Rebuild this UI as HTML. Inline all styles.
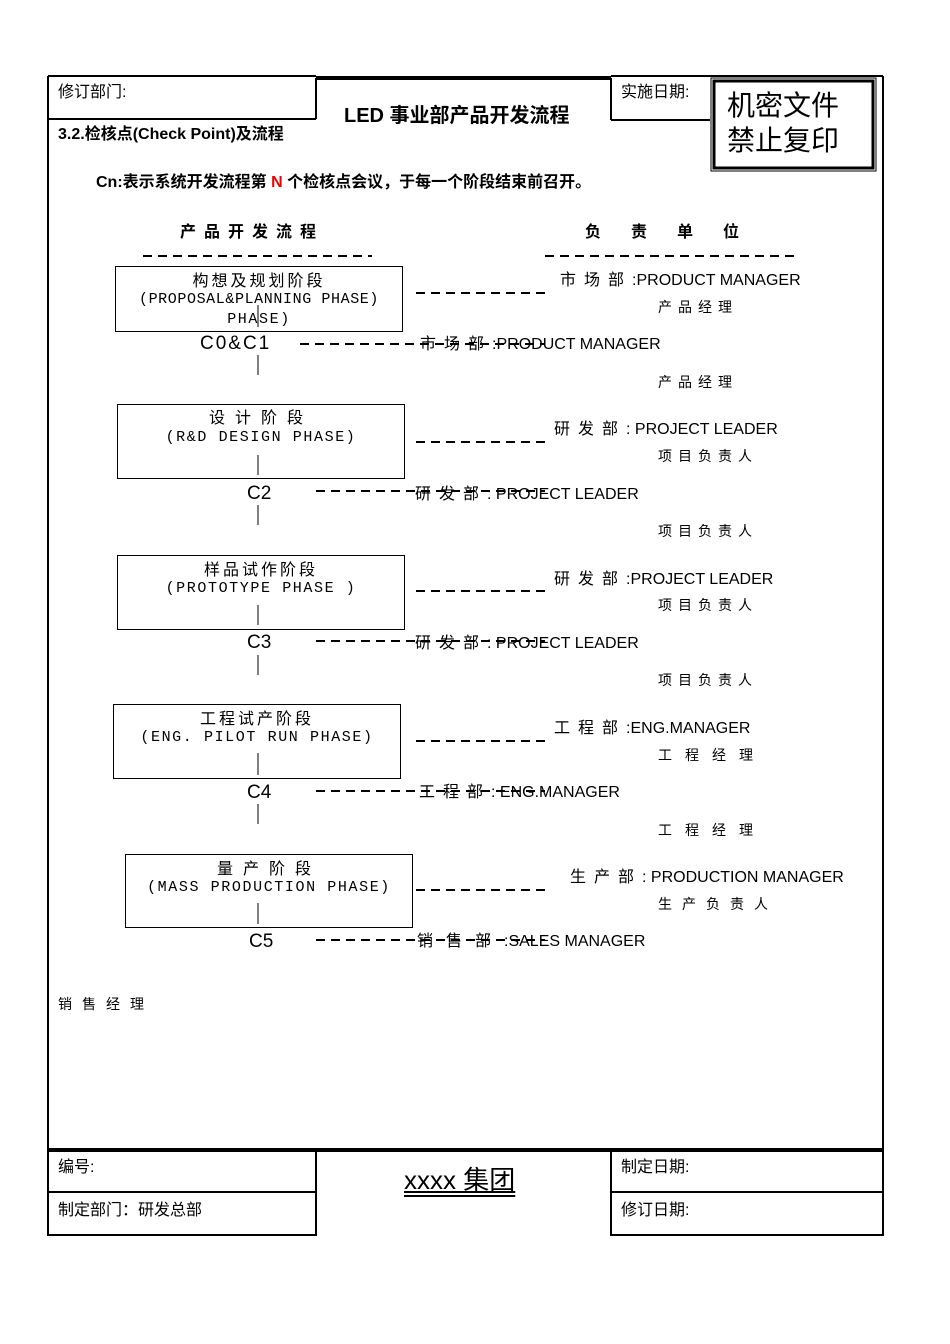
<!DOCTYPE html>
<html><head><meta charset="utf-8">
<style>
body{margin:0;background:#fff;}
#p{position:relative;width:950px;height:1344px;overflow:hidden;font-family:"Liberation Sans","Noto Sans CJK SC",sans-serif;color:#000;}
.t{position:absolute;white-space:nowrap;line-height:20px;font-size:16px;}
.b{font-weight:bold;}
.m{font-family:"Liberation Mono","Noto Sans CJK SC",monospace;font-size:15px;letter-spacing:1.6px;}
.box{position:absolute;border:1px solid #000;}
.c{text-align:center;}
.sm{font-size:14px;letter-spacing:6px;}
</style></head><body><div id="p">
<svg width="950" height="1344" style="position:absolute;left:0;top:0">
<g stroke="#000" fill="none">
<line x1="48" y1="76" x2="48" y2="1236" stroke-width="2"/>
<line x1="883" y1="76" x2="883" y2="1150" stroke-width="2"/>
<line x1="48" y1="76" x2="316" y2="76" stroke-width="2"/>
<line x1="316" y1="78" x2="611" y2="78" stroke-width="4"/>
<line x1="611" y1="76" x2="883" y2="76" stroke-width="2"/>
<line x1="48" y1="119" x2="316" y2="119" stroke-width="2"/>
<line x1="316" y1="78" x2="316" y2="119" stroke-width="2"/>
<line x1="611" y1="78" x2="611" y2="120" stroke-width="2"/>
<line x1="611" y1="120" x2="710" y2="120" stroke-width="2"/>
<rect x="711" y="78" width="165" height="93" stroke-width="1"/>
<rect x="714" y="81" width="159" height="87" stroke-width="3"/>
<line x1="48" y1="1150" x2="883" y2="1150" stroke-width="4"/>
<line x1="883" y1="1150" x2="883" y2="1236" stroke-width="2"/>
<line x1="316" y1="1150" x2="316" y2="1236" stroke-width="2"/>
<line x1="611" y1="1150" x2="611" y2="1236" stroke-width="2"/>
<line x1="48" y1="1192" x2="316" y2="1192" stroke-width="2"/>
<line x1="611" y1="1192" x2="883" y2="1192" stroke-width="2"/>
<line x1="48" y1="1235" x2="316" y2="1235" stroke-width="2"/>
<line x1="611" y1="1235" x2="883" y2="1235" stroke-width="2"/>
<g stroke-width="2" stroke-dasharray="9,6">
<line x1="143" y1="256" x2="372" y2="256"/>
<line x1="545" y1="256" x2="800" y2="256"/>
<line x1="416" y1="293" x2="545" y2="293"/>
<line x1="300" y1="344" x2="545" y2="344"/>
<line x1="416" y1="442" x2="545" y2="442"/>
<line x1="316" y1="491" x2="545" y2="491"/>
<line x1="416" y1="591" x2="545" y2="591"/>
<line x1="316" y1="641" x2="545" y2="641"/>
<line x1="416" y1="741" x2="545" y2="741"/>
<line x1="316" y1="791" x2="545" y2="791"/>
<line x1="416" y1="890" x2="545" y2="890"/>
<line x1="316" y1="940" x2="545" y2="940"/>
</g>
<g stroke-width="1">
<line x1="258" y1="305" x2="258" y2="327"/>
<line x1="258" y1="355" x2="258" y2="375"/>
<line x1="258" y1="455" x2="258" y2="475"/>
<line x1="258" y1="505" x2="258" y2="525"/>
<line x1="258" y1="605" x2="258" y2="625"/>
<line x1="258" y1="655" x2="258" y2="675"/>
<line x1="258" y1="753" x2="258" y2="775"/>
<line x1="258" y1="804" x2="258" y2="824"/>
<line x1="258" y1="903" x2="258" y2="924"/>
</g>
</g>
</svg>

<div class="t" style="left:58px;top:83px">修订部门:</div>
<div class="t b" style="left:344px;top:104px;font-size:20px;line-height:24px">LED 事业部产品开发流程</div>
<div class="t" style="left:621px;top:83px">实施日期:</div>
<div class="t" style="left:727px;top:89px;font-size:28px;line-height:34px">机密文件</div>
<div class="t" style="left:727px;top:124px;font-size:28px;line-height:34px">禁止复印</div>
<div class="t b" style="left:58px;top:125px">3.2.检核点(Check Point)及流程</div>
<div class="t b" style="left:96px;top:173px">Cn:表示系统开发流程第 <span style="color:#e00">N</span> 个检核点会议，于每一个阶段结束前召开。</div>
<div class="t b" style="left:180px;top:223px;letter-spacing:8px">产品开发流程</div>
<div class="t b" style="left:585px;top:223px;letter-spacing:30px">负责单位</div>

<div class="box" style="left:115px;top:266px;width:286px;height:64px"></div>
<div class="t c" style="left:115px;top:272px;width:288px;letter-spacing:3px">构想及规划阶段</div>
<div class="t c m" style="left:115px;top:290px;width:288px;letter-spacing:0.6px">(PROPOSAL&amp;PLANNING PHASE)</div>
<div class="t c m" style="left:115px;top:310px;width:288px">PHASE)</div>
<div class="t" style="left:200px;top:334px;font-size:19px;letter-spacing:2px">C0&amp;C1</div>
<div class="t" style="left:560px;top:271px"><span style="letter-spacing:8px">市场部</span>:PRODUCT MANAGER</div>
<div class="t sm" style="left:658px;top:297px">产品经理</div>
<div class="t" style="left:420px;top:335px"><span style="letter-spacing:8px">市场部</span>:PRODUCT MANAGER</div>
<div class="t sm" style="left:658px;top:372px">产品经理</div>

<div class="box" style="left:117px;top:404px;width:286px;height:73px"></div>
<div class="t c" style="left:117px;top:409px;width:288px;letter-spacing:10px">设计阶段</div>
<div class="t c m" style="left:117px;top:428px;width:288px">(R&amp;D DESIGN PHASE)</div>
<div class="t" style="left:247px;top:484px;font-size:19px">C2</div>
<div class="t" style="left:554px;top:420px"><span style="letter-spacing:8px">研发部</span>:  PROJECT LEADER</div>
<div class="t sm" style="left:658px;top:446px">项目负责人</div>
<div class="t" style="left:415px;top:485px"><span style="letter-spacing:8px">研发部</span>: PROJECT LEADER</div>
<div class="t sm" style="left:658px;top:521px">项目负责人</div>

<div class="box" style="left:117px;top:555px;width:286px;height:73px"></div>
<div class="t c" style="left:117px;top:561px;width:288px;letter-spacing:3px">样品试作阶段</div>
<div class="t c m" style="left:117px;top:579px;width:288px">(PROTOTYPE PHASE )</div>
<div class="t" style="left:247px;top:633px;font-size:19px">C3</div>
<div class="t" style="left:554px;top:570px"><span style="letter-spacing:8px">研发部</span>:PROJECT LEADER</div>
<div class="t sm" style="left:658px;top:595px">项目负责人</div>
<div class="t" style="left:415px;top:634px"><span style="letter-spacing:8px">研发部</span>: PROJECT LEADER</div>
<div class="t sm" style="left:658px;top:670px">项目负责人</div>

<div class="box" style="left:113px;top:704px;width:286px;height:73px"></div>
<div class="t c" style="left:113px;top:710px;width:288px;letter-spacing:3px">工程试产阶段</div>
<div class="t c m" style="left:113px;top:728px;width:288px">(ENG. PILOT RUN PHASE)</div>
<div class="t" style="left:247px;top:783px;font-size:19px">C4</div>
<div class="t" style="left:554px;top:719px"><span style="letter-spacing:8px">工程部</span>:ENG.MANAGER</div>
<div class="t" style="left:658px;top:745px;font-size:14px;letter-spacing:13px">工程经理</div>
<div class="t" style="left:419px;top:783px"><span style="letter-spacing:8px">工程部</span>:  ENG.MANAGER</div>
<div class="t" style="left:658px;top:820px;font-size:14px;letter-spacing:13px">工程经理</div>

<div class="box" style="left:125px;top:854px;width:286px;height:72px"></div>
<div class="t c" style="left:125px;top:860px;width:288px;letter-spacing:10px">量产阶段</div>
<div class="t c m" style="left:125px;top:878px;width:288px">(MASS PRODUCTION PHASE)</div>
<div class="t" style="left:249px;top:932px;font-size:19px">C5</div>
<div class="t" style="left:570px;top:868px"><span style="letter-spacing:8px">生产部</span>:  PRODUCTION MANAGER</div>
<div class="t" style="left:658px;top:894px;font-size:14px;letter-spacing:10px">生产负责人</div>
<div class="t" style="left:417px;top:932px"><span style="letter-spacing:13px">销售部</span>:SALES MANAGER</div>
<div class="t" style="left:58px;top:994px;font-size:14px;letter-spacing:10px">销售经理</div>

<div class="t" style="left:58px;top:1158px">编号:</div>
<div class="t" style="left:58px;top:1201px">制定部门：研发总部</div>
<div class="t" style="left:404px;top:1164px;font-size:26px;line-height:32px;text-decoration:underline double">xxxx 集团</div>
<div class="t" style="left:621px;top:1158px">制定日期:</div>
<div class="t" style="left:621px;top:1201px">修订日期:</div>
</div></body></html>
